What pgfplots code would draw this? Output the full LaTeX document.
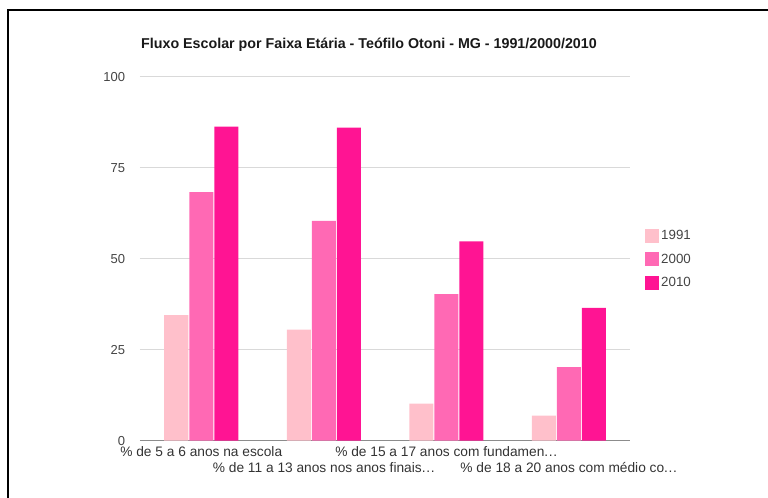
\documentclass[border=0pt]{standalone}
\usepackage{fontspec}
\setmainfont{Liberation Sans}
\usepackage{pgfplots}
\pgfplotsset{compat=1.18}

\definecolor{c1991}{HTML}{FFC0CB}
\definecolor{c2000}{HTML}{FF69B4}
\definecolor{c2010}{HTML}{FF1493}
\definecolor{gridc}{HTML}{D9D9D9}
\definecolor{txtc}{HTML}{444444}

\newcommand{\dotsx}{.\kern0.5pt.\kern0.5pt.}

\begin{document}
\begin{tikzpicture}
\begin{axis}[
  name=ax,
  at={(0pt,0pt)}, anchor=south west,
  scale only axis,
  width=367.5pt, height=273pt,
  xmin=-0.5, xmax=3.5,
  ymin=0, ymax=100,
  ytick={0,25,50,75,100},
  xtick={0,1,2,3},
  xticklabels={
    {\strut\% de 5 a 6 anos na escola},
    {\strut\\\strut\% de 11 a 13 anos nos anos finais\dotsx},
    {\strut\% de 15 a 17 anos com fundamen\dotsx},
    {\strut\\\strut\% de 18 a 20 anos com médio co\dotsx}},
  xticklabel style={align=center, anchor=north, inner sep=0pt, yshift=-3pt,
    font=\fontsize{10.3}{12}\selectfont, text=black!80},
  yticklabel style={anchor=east, inner sep=0pt, xshift=-11pt,
    font=\fontsize{9.75}{11.7}\selectfont, text=txtc},
  /pgf/number format/assume math mode=true,
  major tick length=0pt,
  ymajorgrids,
  grid style={draw=gridc, line width=0.75pt},
  axis x line*=bottom,
  axis y line*=left,
  y axis line style={draw=none},
  x axis line style={draw=black!45, line width=0.9pt, -},
  ybar=0.75pt,
  bar width=18pt,
  legend style={at={(1.021,0.593)}, anchor=north west, draw=none, fill=none,
    font=\fontsize{10}{12}\selectfont, text=txtc, row sep=5pt,
    cells={anchor=west}},
  legend image code/.code={\fill[#1] (0pt,-5.25pt) rectangle (10.5pt,5.25pt);},
]
\addplot[fill=c1991, draw=none] coordinates {(0,34.5) (1,30.5) (2,10.2) (3,6.9)};
\addlegendentry{1991}
\addplot[fill=c2000, draw=none] coordinates {(0,68.3) (1,60.4) (2,40.3) (3,20.2)};
\addlegendentry{2000}
\addplot[fill=c2010, draw=none] coordinates {(0,86.3) (1,86.0) (2,54.8) (3,36.5)};
\addlegendentry{2010}
\end{axis}

\begin{scope}[shift={(ax.south west)}, x=1pt, y=1pt]
  % frame of the screenshot
  \draw[black, line width=1.8pt] (-99,-50) -- (-99,323.05) -- (490,323.05);
  \node[font=\bfseries\fontsize{10.7}{13}\selectfont, text=black!90] at (171.75,296.8)
    {Fluxo Escolar por Faixa Etária - Teófilo Otoni - MG - 1991/2000/2010};
  \pgfresetboundingbox
  \useasboundingbox (-105,-42.2) rectangle (471,330.55);
\end{scope}
\end{tikzpicture}
\end{document}
